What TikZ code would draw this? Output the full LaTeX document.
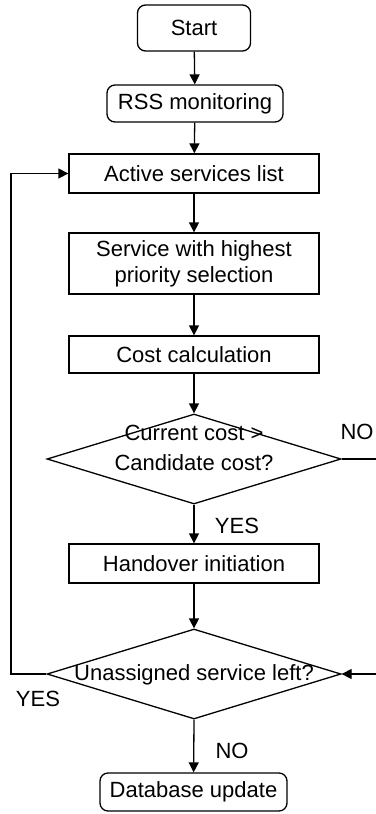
\documentclass[tikz,border=0pt]{standalone}
\usepackage{fontspec}
\setmainfont{Liberation Sans}
\usetikzlibrary{arrows.meta,shapes.geometric}
\begin{document}
\begin{tikzpicture}[x=1pt,y=-1pt,
  every node/.style={font=\fontsize{22}{26}\selectfont, inner sep=0pt},
  rbox/.style={draw, line width=1.3pt, rounded corners=8pt, align=center},
  sbox/.style={draw, line width=1.3pt, align=center, minimum width=250pt},
  decide/.style={draw, line width=1.3pt, diamond, minimum width=294pt, minimum height=90pt, aspect=3.27, align=center},
  flow/.style={line width=1.3pt, -{Triangle[length=10pt,width=10pt]}},
  lbl/.style={font=\fontsize{22}{26}\selectfont}]
\useasboundingbox (0,0) rectangle (375,814);

\node[rbox, minimum width=113pt, minimum height=46pt] (start) at (194,28) {Start};
\node[rbox, minimum width=176pt, minimum height=37pt] (rss) at (195,103.5) {RSS monitoring};
\node[sbox, minimum height=39pt] (active) at (194,173.5) {Active services list};
\node[sbox, minimum height=61pt] (prio) at (194,263.5) {Service with highest\\priority selection};
\node[sbox, minimum height=37pt] (cost) at (194,354.5) {Cost calculation};
\node[decide] (cmp) at (194,459) {};
\node[align=center, font=\fontsize{22}{30}\selectfont] (cmptxt) at (194,448) {Current cost >\\Candidate cost?};
\node[sbox, minimum height=39pt] (hand) at (194,563.5) {Handover initiation};
\node[decide] (left) at (194,674) {};
\node (lefttxt) at (194,675) {Unassigned service left?};
\node[rbox, minimum width=187pt, minimum height=38pt] (db) at (193.5,792) {Database update};

\coordinate (loopL) at (11,674);
\coordinate (loopR) at (395,459);

\draw[flow] (start) -- (rss);
\draw[flow] (rss) -- (active);
\draw[flow] (active) -- (prio);
\draw[flow] (prio) -- (cost);
\draw[flow] (cost) -- (cmp.north);
\draw[flow] (cmp.south) -- (hand);
\draw[flow] (hand) -- (left.north);
\draw[flow] (left.south) -- (db);
\draw[flow] (left.west) -- (loopL) |- (active.west);
\draw[flow] (cmp.east) -- (loopR) |- (left.east);

\node[lbl] at (357,432) {NO};
\node[lbl] at (237,526) {YES};
\node[lbl] at (38,699) {YES};
\node[lbl] at (232,751) {NO};
\end{tikzpicture}
\end{document}
